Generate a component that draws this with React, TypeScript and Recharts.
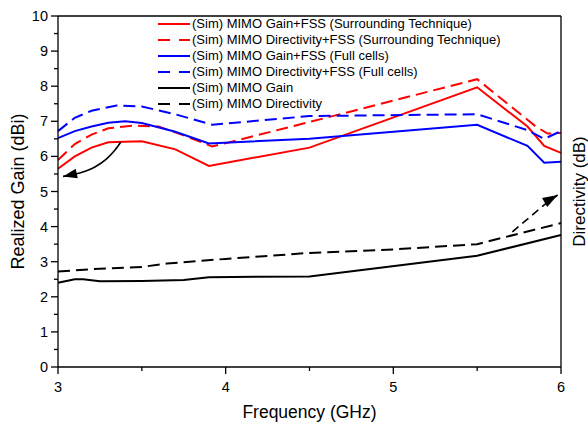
import React from "react";
import { LineChart, Line, XAxis, YAxis, ReferenceLine } from "recharts";

const FONT = "'Liberation Sans', Arial, sans-serif";

// (Sim) MIMO Gain+FSS (Surrounding Technique)
const redGainFreq = [3.0, 3.1, 3.2, 3.3, 3.5, 3.7, 3.9, 4.5, 5.5, 5.8, 5.9, 6.0];
const redGainVal = [5.65, 6.0, 6.25, 6.4, 6.43, 6.2, 5.73, 6.25, 7.97, 6.85, 6.3, 6.1];
// (Sim) MIMO Directivity+FSS (Surrounding Technique)
const redDirFreq = [3.0, 3.1, 3.2, 3.3, 3.45, 3.6, 3.75, 3.92, 4.5, 5.5, 5.85, 5.92, 6.0];
const redDirVal = [5.9, 6.35, 6.62, 6.8, 6.88, 6.85, 6.6, 6.28, 6.98, 8.2, 6.85, 6.65, 6.67];
// (Sim) MIMO Gain+FSS (Full cells)
const blueGainFreq = [3.0, 3.1, 3.2, 3.3, 3.4, 3.5, 3.7, 3.9, 4.5, 5.5, 5.8, 5.9, 6.0];
const blueGainVal = [6.52, 6.72, 6.85, 6.96, 7.0, 6.95, 6.7, 6.37, 6.5, 6.9, 6.3, 5.82, 5.85];
// (Sim) MIMO Directivity+FSS (Full cells)
const blueDirFreq = [3.0, 3.1, 3.2, 3.35, 3.5, 3.7, 3.92, 4.5, 5.5, 5.8, 5.9, 6.0];
const blueDirVal = [6.72, 7.1, 7.3, 7.45, 7.42, 7.2, 6.9, 7.15, 7.2, 6.75, 6.5, 6.72];
// (Sim) MIMO Gain
const blackGainFreq = [3.0, 3.1, 3.15, 3.25, 3.5, 3.75, 3.9, 4.5, 5.5, 6.0];
const blackGainVal = [2.4, 2.5, 2.5, 2.44, 2.45, 2.48, 2.56, 2.58, 3.17, 3.76];
// (Sim) MIMO Directivity
const blackDirFreq = [3.0, 3.25, 3.5, 3.65, 4.0, 4.5, 5.0, 5.5, 6.0];
const blackDirVal = [2.72, 2.8, 2.85, 2.95, 3.08, 3.25, 3.35, 3.5, 4.1];

// annotation arrows (data coordinates)
const leftArrowFreq = [3.03, 3.13, 3.22, 3.29, 3.34, 3.375];
const leftArrowVal = [5.43, 5.53, 5.7, 5.93, 6.18, 6.41];
const rightArrowFreq = [5.71, 5.9, 5.98];
const rightArrowVal = [3.85, 4.62, 4.9];

const xTicks = [3, 3.5, 4, 4.5, 5, 5.5, 6];
const yTicks = [0, 0.5, 1, 1.5, 2, 2.5, 3, 3.5, 4, 4.5, 5, 5.5, 6, 6.5, 7, 7.5, 8, 8.5, 9, 9.5, 10];

const legendItems = [
  { name: "(Sim) MIMO Gain+FSS (Surrounding Technique)", color: "#ff0000", dash: undefined },
  { name: "(Sim) MIMO Directivity+FSS (Surrounding Technique)", color: "#ff0000", dash: "12 9" },
  { name: "(Sim) MIMO Gain+FSS (Full cells)", color: "#0000ff", dash: undefined },
  { name: "(Sim) MIMO Directivity+FSS (Full cells)", color: "#0000ff", dash: "12 9" },
  { name: "(Sim) MIMO Gain", color: "#000000", dash: undefined },
  { name: "(Sim) MIMO Directivity", color: "#000000", dash: "12 9" },
];

const zip = (fs: number[], vs: number[]) => fs.map((f, i) => ({ f, v: vs[i] }));

const XTick = (props: any) => {
  const { x, y, payload } = props;
  const major = Number.isInteger(payload.value);
  return (
    <g>
      <line x1={x} x2={x} y1={y} y2={y + (major ? 7 : 4)} stroke="#000" strokeWidth={1.3} />
      {major && (
        <text x={x} y={y + 25} textAnchor="middle" fontSize={14.5} fontFamily={FONT} fill="#000">
          {payload.value}
        </text>
      )}
    </g>
  );
};

const YTick = (props: any) => {
  const { x, y, payload } = props;
  const major = Number.isInteger(payload.value);
  return (
    <g>
      <line x1={x - (major ? 7 : 4)} x2={x} y1={y} y2={y} stroke="#000" strokeWidth={1.3} />
      {major && (
        <text x={x - 10} y={y} textAnchor="end" dominantBaseline="central" fontSize={14.5} fontFamily={FONT} fill="#000">
          {payload.value}
        </text>
      )}
    </g>
  );
};

const arrowHead = (cx: number, cy: number, angle: number, size: number, key: number) => (
  <polygon
    key={key}
    points={`0,0 ${-size},${-size * 0.35} ${-size},${size * 0.35}`}
    transform={`translate(${cx},${cy}) rotate(${angle})`}
    fill="#000"
  />
);

const LegendBox = () => (
  <div
    style={{
      position: "absolute",
      left: 158,
      top: 16,
      fontFamily: FONT,
      fontSize: 13,
      color: "#000",
      lineHeight: "16px",
    }}
  >
    {legendItems.map((it) => (
      <div key={it.name} style={{ display: "flex", alignItems: "center", height: 16 }}>
        <svg width={33} height={16} style={{ marginRight: 1 }}>
          <line x1={0} x2={32} y1={8} y2={8} stroke={it.color} strokeWidth={2} strokeDasharray={it.dash} />
        </svg>
        <span style={{ whiteSpace: "nowrap" }}>{it.name}</span>
      </div>
    ))}
  </div>
);

export default function App() {
  const series = [
    { data: zip(redGainFreq, redGainVal), color: "#ff0000", dash: undefined },
    { data: zip(redDirFreq, redDirVal), color: "#ff0000", dash: "12 6" },
    { data: zip(blueGainFreq, blueGainVal), color: "#0000ff", dash: undefined },
    { data: zip(blueDirFreq, blueDirVal), color: "#0000ff", dash: "12 6" },
    { data: zip(blackGainFreq, blackGainVal), color: "#000000", dash: undefined },
    { data: zip(blackDirFreq, blackDirVal), color: "#000000", dash: "12 6" },
  ];
  const leftArrow = zip(leftArrowFreq, leftArrowVal);
  const rightArrow = zip(rightArrowFreq, rightArrowVal);

  return (
    <div style={{ position: "absolute", left: 0, top: 0, width: 588, height: 424, background: "#fff" }}>
      <LineChart width={588} height={424} margin={{ top: 16, right: 0, bottom: 0, left: 0 }}>
        <XAxis
          dataKey="f"
          type="number"
          domain={[3, 6]}
          ticks={xTicks}
          interval={0}
          allowDuplicatedCategory={false}
          height={57}
          tickSize={0}
          tickMargin={0}
          tick={<XTick />}
          axisLine={{ stroke: "#000", strokeWidth: 1.3 }}
          label={(p: any) => {
            const vb = p.viewBox || {};
            return (
              <text x={vb.x + vb.width / 2} y={412} textAnchor="middle" dominantBaseline="central" fontSize={17.5} fontFamily={FONT} fill="#000">
                Frequency (GHz)
              </text>
            );
          }}
        />
        <YAxis
          yAxisId="left"
          type="number"
          domain={[0, 10]}
          ticks={yTicks}
          interval={0}
          width={58}
          tickSize={0}
          tickMargin={0}
          tick={<YTick />}
          axisLine={{ stroke: "#000", strokeWidth: 1.3 }}
          label={(p: any) => {
            const vb = p.viewBox || {};
            const cy = vb.y + vb.height / 2;
            return (
              <text x={18} y={cy} transform={`rotate(-90, 18, ${cy})`} textAnchor="middle" dominantBaseline="central" fontSize={18} fontFamily={FONT} fill="#000">
                Realized Gain (dBi)
              </text>
            );
          }}
        />
        <YAxis
          yAxisId="right"
          orientation="right"
          type="number"
          domain={[0, 10]}
          width={27}
          tick={false}
          tickLine={false}
          axisLine={{ stroke: "#000", strokeWidth: 1.3 }}
          label={(p: any) => {
            const vb = p.viewBox || {};
            const cy = vb.y + vb.height / 2;
            return (
              <text x={579} y={cy} transform={`rotate(-90, 579, ${cy})`} textAnchor="middle" dominantBaseline="central" fontSize={17} fontFamily={FONT} fill="#000">
                Directivity (dB)
              </text>
            );
          }}
        />
        <ReferenceLine yAxisId="left" y={10} stroke="#000" strokeWidth={1.3} />
        {series.map((s, i) => (
          <Line
            key={i}
            yAxisId="left"
            data={s.data}
            dataKey="v"
            type="linear"
            stroke={s.color}
            strokeWidth={2}
            strokeDasharray={s.dash}
            dot={false}
            activeDot={false}
            isAnimationActive={false}
          />
        ))}
        <Line
          yAxisId="left"
          data={leftArrow}
          dataKey="v"
          type="monotone"
          stroke="#000"
          strokeWidth={1.6}
          dot={(p: any) => (p.index === 0 ? arrowHead(p.cx, p.cy, 168, 14, p.index) : <g key={p.index} />)}
          activeDot={false}
          legendType="none"
          isAnimationActive={false}
        />
        <Line
          yAxisId="left"
          data={rightArrow}
          dataKey="v"
          type="linear"
          stroke="#000"
          strokeWidth={1.6}
          strokeDasharray="8 5"
          dot={(p: any) => (p.index === rightArrow.length - 1 ? arrowHead(p.cx, p.cy, -30, 15, p.index) : <g key={p.index} />)}
          activeDot={false}
          legendType="none"
          isAnimationActive={false}
        />
      </LineChart>
      <LegendBox />
    </div>
  );
}
